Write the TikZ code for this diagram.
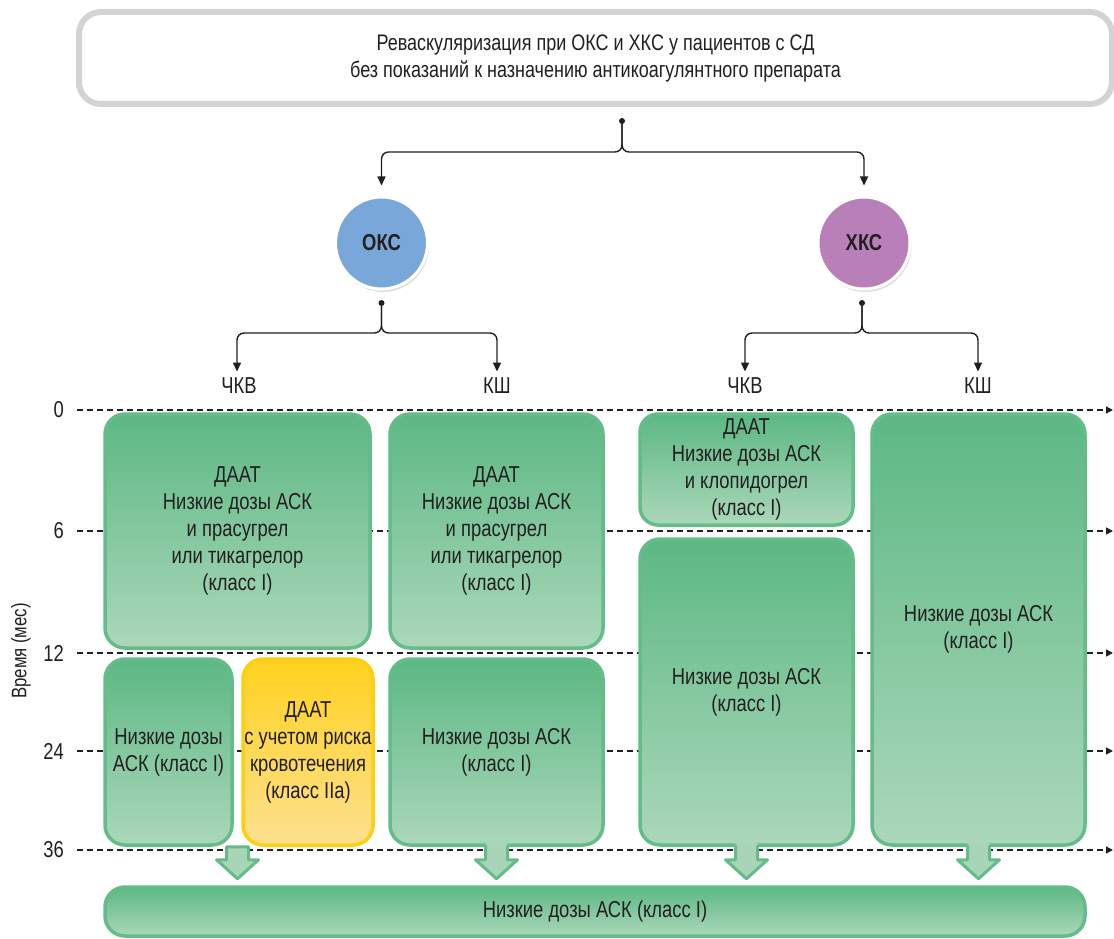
\documentclass[tikz,border=0pt]{standalone}
\usepackage{fontspec}
\setmainfont[FakeStretch=0.8]{Liberation Sans}
\usetikzlibrary{arrows.meta,calc,shadows}

\definecolor{ink}{HTML}{231F20}
\definecolor{frame}{HTML}{D2D3D4}
\definecolor{gtop}{HTML}{5CB884}
\definecolor{gbot}{HTML}{ABD7BA}
\definecolor{gline}{HTML}{64BC88}
\definecolor{ytop}{HTML}{FFD21F}
\definecolor{ybot}{HTML}{FDE08F}
\definecolor{yline}{HTML}{FFCD12}
\definecolor{okcblue}{HTML}{7AA7D9}
\definecolor{hkcviolet}{HTML}{B97FB8}
\definecolor{afill}{HTML}{A8D5B7}

\begin{document}
\begin{tikzpicture}[x=1pt,y=-1pt,
  txt/.style={font=\fontsize{23}{27}\selectfont, text=ink, align=center},
  headbox/.style={draw=frame, line width=6pt, rounded corners=22pt, fill=white,
    font=\fontsize{22.5}{27}\selectfont, text=ink, align=center},
  gbox/.style={txt, draw=gline, line width=3.5pt, rounded corners=20pt,
    top color=gtop, bottom color=gbot, inner sep=0pt},
  ybox/.style={txt, draw=yline, line width=3.5pt, rounded corners=20pt,
    top color=ytop, bottom color=ybot, inner sep=0pt},
  group/.style={circle, minimum size=92pt, draw=white, line width=3pt,
    font=\fontsize{23}{26}\selectfont\bfseries, text=ink,
    drop shadow={shadow xshift=1.5pt, shadow yshift=-3pt, opacity=0.25}},
  dotnode/.style={circle, fill=ink, inner sep=0pt, minimum size=6pt},
  link/.style={draw=ink, line width=1.4pt, rounded corners=7pt,
    -{Triangle[length=9pt,width=8pt]}},
  timeline/.style={draw=ink, line width=1.3pt, dash pattern=on 6pt off 4pt,
    -{Triangle[length=7pt,width=7pt]}},
  blockarrow/.style={draw=gline, line width=3pt, line join=round},
]
\useasboundingbox (0,0) rectangle (1114,939);

% time axis
\node[txt, rotate=90, font=\fontsize{21}{24}\selectfont] (axis) at (21,651) {Время (мес)};
\foreach \m/\yy in {0/410,6/531,12/653,24/751,36/850}{
  \node[txt, anchor=east, inner sep=0pt] (t\m) at (64,\yy) {\m};
  \coordinate (e\m) at (1113,\yy);
  \draw[timeline] ($(t\m.east)+(13,0)$) -- (e\m);
}

% header
\node[headbox, minimum width=1033pt, minimum height=92pt] (head) at (595.5,58)
  {Реваскуляризация при ОКС и ХКС у пациентов с СД\\без показаний к назначению антикоагулянтного препарата};

% patient groups
\node[dotnode] (d0) at (622,121) {};
\node[group, fill=okcblue] (okc) at (381.5,243) {ОКС};
\node[group, fill=hkcviolet] (hkc) at (864,243) {ХКС};
\draw[link, shorten >=10pt] (d0.center) -- ++(0,31) -| (okc);
\draw[link, shorten >=10pt] (d0.center) -- ++(0,31) -| (hkc);

% interventions
\node[dotnode] (d1) at (381.5,303) {};
\node[dotnode] (d2) at (862,303) {};
\node[txt] (okcp) at (239,386) {ЧКВ};
\node[txt] (okcs) at (497,386) {КШ};
\node[txt] (hkcp) at (745,386) {ЧКВ};
\node[txt] (hkcs) at (978,386) {КШ};
\draw[link, shorten >=3pt] (d1.center) -- ++(0,30) -| (okcp.north -| 237,0);
\draw[link, shorten >=3pt] (d1.center) -- ++(0,30) -| (okcs);
\draw[link, shorten >=3pt] (d2.center) -- ++(0,30) -| (hkcp);
\draw[link, shorten >=3pt] (d2.center) -- ++(0,30) -| (hkcs);

% therapy boxes
\node[gbox, minimum width=265pt, minimum height=234pt] (A) at (237.5,531)
  {ДААТ\\Низкие дозы АСК\\и прасугрел\\или тикагрелор\\(класс I)};
\node[gbox, minimum width=213pt, minimum height=234pt] (B) at (496.5,531)
  {ДААТ\\Низкие дозы АСК\\и прасугрел\\или тикагрелор\\(класс I)};
\node[gbox, minimum width=213pt, minimum height=111pt, rounded corners=18pt] (C) at (746.5,469.5)
  {ДААТ\\Низкие дозы АСК\\и клопидогрел\\(класс I)};
\node[gbox, minimum width=213pt, minimum height=306pt] (D) at (746.5,692)
  {Низкие дозы АСК\\(класс I)};
\node[gbox, minimum width=213pt, minimum height=431pt] (E) at (978.5,629.5)
  {Низкие дозы АСК\\(класс I)};
\node[gbox, minimum width=127pt, minimum height=186pt] (F) at (168.5,752)
  {Низкие дозы\\АСК (класс I)};
\node[ybox, minimum width=130pt, minimum height=186pt] (G) at (308,752)
  {ДААТ\\с учетом риска\\кровотечения\\(класс IIa)};
\node[gbox, minimum width=213pt, minimum height=186pt] (H) at (496.5,752)
  {Низкие дозы АСК\\(класс I)};
\node[gbox, minimum width=980pt, minimum height=49pt] (bar) at (595,911.5)
  {Низкие дозы АСК (класс I)};

% block arrows towards the long-term therapy bar
\coordinate (pFG) at ($(F.south east)!0.5!(G.south west)$);
\coordinate (pH) at (H.south);
\coordinate (pD) at (D.south);
\coordinate (pE) at (E.south);
\fill[afill] ($(pFG)+(-11,0)$) -- ++(0,13) -- ++(-10,0) -- ++(21,19) -- ++(21,-19) -- ++(-10,0) -- ++(0,-13) -- cycle;
\draw[blockarrow] ($(pFG)+(-11,0)$) -- ++(0,13) -- ++(-10,0) -- ++(21,19) -- ++(21,-19) -- ++(-10,0) -- ++(0,-13) -- cycle;
\foreach \p in {pH,pD,pE}{
  \fill[afill] ($(\p)+(-11,-5)$) -- ++(0,18) -- ++(-10,0) -- ++(21,19) -- ++(21,-19) -- ++(-10,0) -- ++(0,-18) -- cycle;
  \draw[blockarrow] ($(\p)+(-11,-1.5)$) -- ++(0,14.5) -- ++(-10,0) -- ++(21,19) -- ++(21,-19) -- ++(-10,0) -- ++(0,-14.5);
}
\end{tikzpicture}
\end{document}
